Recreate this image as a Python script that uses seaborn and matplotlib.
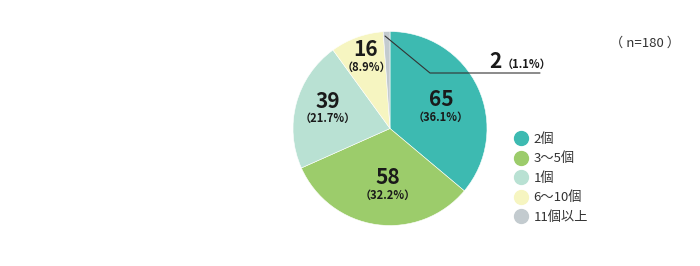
import matplotlib
matplotlib.use("Agg")
import matplotlib.pyplot as plt
import seaborn as sns
from matplotlib.lines import Line2D

categories = ["2個", "3～5個", "1個", "6～10個", "11個以上"]
counts = [65, 58, 39, 16, 2]
percents = [36.1, 32.2, 21.7, 8.9, 1.1]
colors = ["#3dbab1", "#9ccc6b", "#b9e1d3", "#f6f5c1", "#c3cbcf"]
n_label = "（ n=180 ）"

sns.set_theme(style="white")
plt.rcParams['font.family'] = ['Noto Sans CJK JP', 'DejaVu Sans']

fig = plt.figure(figsize=(7.0, 2.66), dpi=100)
ax = fig.add_axes([0, 0, 1, 1])

cx, cy, r = 390, 128.5, 97
# y-axis is inverted, so draw counterclockwise from -90 to look clockwise from top
wedges, _ = ax.pie(counts, colors=colors, startangle=-90, counterclock=True,
                   center=(cx, cy), radius=r,
                   wedgeprops=dict(edgecolor='white', linewidth=0.4))
ax.set_xlim(0, 700)
ax.set_ylim(266, 0)
ax.set_aspect('equal')
ax.axis('off')

label_pos = [(441, 100), (388, 178), (328, 101), (366, 50)]
for (x, y), c, p in zip(label_pos, counts[:4], percents[:4]):
    ax.text(x, y, str(c), ha='center', va='center', fontsize=15,
            fontweight='bold', color='#1a1a1a')
    ax.text(x, y + 17, f"（{p}%）", ha='center', va='center', fontsize=8,
            fontweight='bold', color='#1a1a1a')

# small slice callout
ax.plot([385, 430, 540], [36, 73, 73], color='#333333', linewidth=0.8)
ax.text(495, 62, str(counts[4]), ha='center', va='center', fontsize=15,
        fontweight='bold', color='#1a1a1a')
ax.text(502, 64, f"（{percents[4]}%）", ha='left', va='center', fontsize=8,
        fontweight='bold', color='#1a1a1a')

ax.text(645, 43, n_label, ha='center', va='center', fontsize=9.5, color='#333333')

handles = [Line2D([0], [0], marker='o', linestyle='', markersize=10,
                  markerfacecolor=c, markeredgecolor=c) for c in colors]
leg = ax.legend(handles, categories, loc='upper left',
                bbox_to_anchor=(506 / 700, 1 - 126 / 266), frameon=False,
                fontsize=9.5, handletextpad=0.4, labelspacing=0.5,
                handlelength=1.2, borderpad=0)
for t in leg.get_texts():
    t.set_color('#333333')

fig.savefig("out.png", dpi=100)
